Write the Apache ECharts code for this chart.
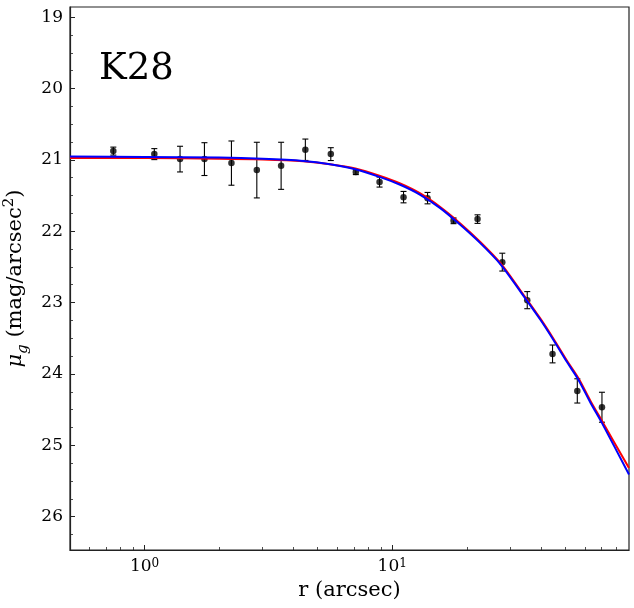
<!DOCTYPE html>
<html>
<head>
<meta charset="utf-8">
<script src="https://cdn.jsdelivr.net/npm/echarts@6/dist/echarts.min.js"></script>
<style>
html, body { margin: 0; padding: 0; background: #fff; }
#chart { width: 634px; height: 608px; }
</style>
</head>
<body>
<div id="chart"></div>
<script>
// observed profile (r in arcsec, surface brightness in mag/arcsec^2)
var radius = [0.748, 1.095, 1.391, 1.745, 2.243, 2.84, 3.56, 4.46, 5.65, 7.13, 8.89, 11.11, 13.89, 17.69, 22.11, 27.83, 35.1, 44.4, 55.9, 70.3];
var muObs = [20.877, 20.919, 20.989, 20.989, 21.045, 21.143, 21.083, 20.858, 20.919, 21.171, 21.311, 21.522, 21.536, 21.854, 21.830, 22.433, 22.966, 23.72, 24.238, 24.467];
var muErr = [0.056, 0.077, 0.18, 0.23, 0.31, 0.39, 0.33, 0.15, 0.09, 0.035, 0.07, 0.08, 0.08, 0.04, 0.06, 0.125, 0.12, 0.125, 0.17, 0.21];

// fitted model curves
var modelR = [0.5, 1.0, 2.0, 3.0, 4.37, 5.61, 7.1, 8.94, 10.77, 12.98, 15.63, 18.83, 22.68, 27.32, 32.9, 39.6, 44.85, 50.8, 56.6, 63.1, 70.35, 90.4];
var modelRed = [20.972, 20.975, 20.983, 20.995, 21.02, 21.06, 21.12, 21.225, 21.33, 21.47, 21.66, 21.89, 22.15, 22.445, 22.828, 23.222, 23.51, 23.815, 24.065, 24.375, 24.66, 25.32];
var modelBlue = [20.953, 20.958, 20.968, 20.985, 21.015, 21.06, 21.13, 21.241, 21.349, 21.489, 21.676, 21.91, 22.167, 22.46, 22.843, 23.237, 23.527, 23.834, 24.087, 24.40, 24.69, 25.41];

var xMajorTicks = [1, 10];
var xMinorTicks = [0.6, 0.7, 0.8, 0.9, 2, 3, 4, 5, 6, 7, 8, 9, 20, 30, 40, 50, 60, 70, 80];
var yMajorTicks = [19, 20, 21, 22, 23, 24, 25, 26];
var yMinorTicks = [19.25, 19.5, 19.75, 20.25, 20.5, 20.75, 21.25, 21.5, 21.75, 22.25, 22.5, 22.75,
                   23.25, 23.5, 23.75, 24.25, 24.5, 24.75, 25.25, 25.5, 25.75, 26.25];

var label = 'K28';
var xName = 'r (arcsec)';

var FONT = 'DejaVu Serif';
var INK = '#222';
var xMin = 0.5, xMax = 90.4, yMin = 18.857, yMax = 26.468;

var obsData = [], errData = [], redData = [], blueData = [];
for (var i = 0; i < radius.length; i++) {
    obsData.push([radius[i], muObs[i]]);
    errData.push([radius[i], muObs[i], muErr[i]]);
}
for (var j = 0; j < modelR.length; j++) {
    redData.push([modelR[j], modelRed[j]]);
    blueData.push([modelR[j], modelBlue[j]]);
}

var myChart = echarts.init(document.getElementById('chart'));

function xAxisBase(extra) {
    var a = {
        type: 'log', logBase: 10, min: xMin, max: xMax, gridIndex: 0, position: 'bottom',
        splitLine: { show: false }, minorTick: { show: false }
    };
    for (var k in extra) a[k] = extra[k];
    return a;
}
function yAxisBase(extra) {
    var a = {
        type: 'value', inverse: true, min: yMin, max: yMax, gridIndex: 0, position: 'left',
        splitLine: { show: false }, minorTick: { show: false }
    };
    for (var k in extra) a[k] = extra[k];
    return a;
}

var option = {
    backgroundColor: '#fff',
    animation: false,
    grid: {
        left: 70, right: 5, top: 7, bottom: 58,
        containLabel: false, outerBoundsMode: 'none',
        show: true, borderColor: INK, borderWidth: 1.2, backgroundColor: '#fff'
    },
    xAxis: [
        xAxisBase({
            axisLine: { show: true, lineStyle: { color: INK, width: 1.2 } },
            axisTick: { show: true, inside: true, length: 5, customValues: xMajorTicks, lineStyle: { color: INK, width: 1 } },
            axisLabel: {
                show: true, customValues: xMajorTicks, margin: 8, color: '#000',
                fontFamily: FONT, fontSize: 17,
                formatter: function(v) { return '10{sup|' + Math.round(Math.log10(v)) + '}'; },
                rich: { sup: { fontFamily: FONT, fontSize: 12, verticalAlign: 'top', lineHeight: 12 } }
            },
            name: xName, nameLocation: 'middle', nameGap: 30,
            nameTextStyle: { fontFamily: FONT, fontSize: 21, color: '#000' }
        }),
        xAxisBase({
            axisLine: { show: false },
            axisTick: { show: true, inside: true, length: 3, customValues: xMinorTicks, lineStyle: { color: INK, width: 0.8 } },
            axisLabel: { show: false }
        })
    ],
    yAxis: [
        yAxisBase({
            axisLine: { show: true, lineStyle: { color: INK, width: 1.2 } },
            axisTick: { show: true, inside: true, length: 5, customValues: yMajorTicks, lineStyle: { color: INK, width: 1 } },
            axisLabel: {
                show: true, customValues: yMajorTicks, margin: 7, color: '#000',
                fontFamily: FONT, fontSize: 17
            },
            name: '{mu|μ}{sub|g}{t| (mag/arcsec}{sup|2}{t|)}',
            nameLocation: 'middle', nameRotate: 90, nameGap: 31,
            nameTextStyle: {
                fontFamily: FONT, fontSize: 21, color: '#000',
                rich: {
                    mu: { fontFamily: FONT, fontSize: 21, fontStyle: 'italic', lineHeight: 29, verticalAlign: 'middle' },
                    t: { fontFamily: FONT, fontSize: 21, lineHeight: 29, verticalAlign: 'middle' },
                    sub: { fontFamily: FONT, fontSize: 15, fontStyle: 'italic', lineHeight: 15, verticalAlign: 'bottom' },
                    sup: { fontFamily: FONT, fontSize: 15, lineHeight: 15, verticalAlign: 'top' }
                }
            }
        }),
        yAxisBase({
            axisLine: { show: false },
            axisTick: { show: true, inside: true, length: 3, customValues: yMinorTicks, lineStyle: { color: INK, width: 0.8 } },
            axisLabel: { show: false }
        })
    ],
    graphic: [{
        type: 'text', left: 99, top: 51, silent: true,
        style: { text: label, fontFamily: FONT, fontSize: 37, fill: '#000' }
    }],
    series: [
        {
            // error bars with caps
            type: 'custom', xAxisIndex: 0, yAxisIndex: 0,
            data: errData, encode: { x: 0, y: 1 },
            clip: true, z: 2,
            renderItem: function(params, api) {
                var x = api.value(0), y = api.value(1), e = api.value(2);
                var top = api.coord([x, y - e]);
                var bot = api.coord([x, y + e]);
                var w = 3;
                var st = { stroke: '#000', lineWidth: 1.1 };
                return {
                    type: 'group',
                    children: [
                        { type: 'line', shape: { x1: top[0], y1: top[1], x2: bot[0], y2: bot[1] }, style: st },
                        { type: 'line', shape: { x1: top[0] - w, y1: top[1], x2: top[0] + w, y2: top[1] }, style: st },
                        { type: 'line', shape: { x1: bot[0] - w, y1: bot[1], x2: bot[0] + w, y2: bot[1] }, style: st }
                    ]
                };
            }
        },
        {
            type: 'scatter', xAxisIndex: 0, yAxisIndex: 0,
            data: obsData, symbol: 'circle', symbolSize: 6.5,
            itemStyle: { color: '#000' }, z: 3
        },
        {
            type: 'line', xAxisIndex: 0, yAxisIndex: 0,
            data: redData, smooth: 0.3, showSymbol: false, clip: true,
            lineStyle: { color: '#ff0000', width: 2 }, z: 4
        },
        {
            type: 'line', xAxisIndex: 0, yAxisIndex: 0,
            data: blueData, smooth: 0.3, showSymbol: false, clip: true,
            lineStyle: { color: '#0000ff', width: 2 }, z: 5
        }
    ]
};
myChart.setOption(option);
</script>
</body>
</html>
